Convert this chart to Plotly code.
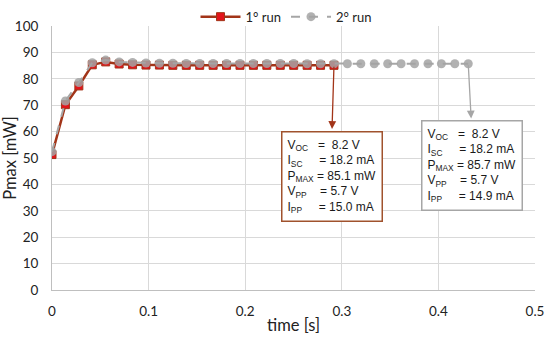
import plotly.graph_objects as go

# ---- data ----
time_1 = [0, 0.0139, 0.0278, 0.0417, 0.0556, 0.0695, 0.0834, 0.0973, 0.1112, 0.1251,
          0.139, 0.1529, 0.1668, 0.1807, 0.1946, 0.2085, 0.2224, 0.2363, 0.2502, 0.2641,
          0.278, 0.2919]
pmax_1 = [51.3, 70.2, 77.3, 85.3, 86.4, 85.6, 85.3, 85.2, 85.2, 85.1,
          85.1, 85.1, 85.1, 85.1, 85.1, 85.1, 85.1, 85.1, 85.1, 85.1,
          85.1, 85.1]
time_2 = [0, 0.0139, 0.0278, 0.0417, 0.0556, 0.0695, 0.0834, 0.0973, 0.1112, 0.1251,
          0.139, 0.1529, 0.1668, 0.1807, 0.1946, 0.2085, 0.2224, 0.2363, 0.2502, 0.2641,
          0.278, 0.2919, 0.3058, 0.3197, 0.3336, 0.3475, 0.3614, 0.3753, 0.3892, 0.4031,
          0.417, 0.4309]
pmax_2 = [52.4, 71.6, 78.6, 86.1, 87.1, 86.4, 86.2, 86.0, 85.9, 85.9,
          85.8, 85.8, 85.8, 85.8, 85.8, 85.8, 85.8, 85.8, 85.8, 85.7,
          85.7, 85.7, 85.7, 85.7, 85.7, 85.7, 85.7, 85.7, 85.7, 85.7,
          85.7, 85.7]
series_names = ["1° run", "2° run"]
box_1 = ["V<sub>OC</sub>   =  8.2 V", "I<sub>SC</sub>     = 18.2 mA", "P<sub>MAX</sub> = 85.1 mW",
         "V<sub>PP</sub>    = 5.7 V", "I<sub>PP</sub>     = 15.0 mA"]
box_2 = ["V<sub>OC</sub>   =  8.2 V", "I<sub>SC</sub>     = 18.2 mA", "P<sub>MAX</sub> = 85.7 mW",
         "V<sub>PP</sub>    = 5.7 V", "I<sub>PP</sub>     = 14.9 mA"]

RED_LINE = "#A23418"
GRAY = "#A6A6A6"
AXFONT = "Lato, Carlito, Calibri, sans-serif"
BOXFONT = dict(family="Liberation Sans, Arial, sans-serif", size=12, color="#1a1a1a")

fig = go.Figure()
fig.add_trace(go.Scatter(
    x=time_1, y=pmax_1, name=series_names[0], mode="lines+markers",
    line=dict(color=RED_LINE, width=2.5),
    marker=dict(symbol="square", size=8, color="#E3141B", line=dict(color=RED_LINE, width=1)),
))
fig.add_trace(go.Scatter(
    x=time_2, y=pmax_2, name=series_names[1], mode="lines+markers",
    line=dict(color=GRAY, width=2, dash="dash"),
    marker=dict(symbol="circle", size=9, color="rgba(163,163,163,0.85)"),
))

# boxes
fig.add_annotation(x=0.2371, y=60.3, xref="x", yref="y", xanchor="left", yanchor="top",
                   text="<br>".join(box_1), showarrow=False, align="left", font=BOXFONT,
                   bordercolor="#A0522D", borderwidth=1.5, borderpad=5, bgcolor="white")
fig.add_annotation(x=0.3822, y=64.4, xref="x", yref="y", xanchor="left", yanchor="top",
                   text="<br>".join(box_2), showarrow=False, align="left", font=BOXFONT,
                   bordercolor=GRAY, borderwidth=1.5, borderpad=5, bgcolor="white")
# arrows
fig.add_annotation(x=time_1[-1] - 0.002, y=61.0, xref="x", yref="y",
                   ax=time_1[-1], ay=pmax_1[-1], axref="x", ayref="y", text="",
                   showarrow=True, arrowhead=2, arrowsize=1.2, arrowwidth=1.3, arrowcolor=RED_LINE,
                   standoff=0, startstandoff=0)
fig.add_annotation(x=time_2[-1] + 0.003, y=65.0, xref="x", yref="y",
                   ax=time_2[-1], ay=pmax_2[-1], axref="x", ayref="y", text="",
                   showarrow=True, arrowhead=2, arrowsize=1.2, arrowwidth=1.3, arrowcolor=GRAY,
                   standoff=0, startstandoff=0)

fig.update_layout(
    width=550, height=339,
    margin=dict(l=52, r=15, t=26, b=49, autoexpand=False),
    paper_bgcolor="white", plot_bgcolor="white",
    font=dict(family=AXFONT, size=13, color="#222222"),
    legend=dict(orientation="h", x=0.52, xanchor="center", xref="container",
                y=0.995, yanchor="top", yref="container",
                font=dict(family=AXFONT, size=13), itemwidth=40, tracegroupgap=0,
                bgcolor="rgba(0,0,0,0)"),
    xaxis=dict(range=[0, 0.5], dtick=0.1, tick0=0, showgrid=True, gridcolor="#D9D9D9",
               gridwidth=1, zeroline=False, showline=True, linecolor="#BFBFBF", linewidth=1,
               ticks="", ticklabelstandoff=9, automargin=False,
               tickfont=dict(family=AXFONT, size=13.5),
               title=dict(text="time [s]", font=dict(family=AXFONT, size=16.5), standoff=1)),
    yaxis=dict(range=[0, 100], dtick=10, showgrid=True, gridcolor="#D9D9D9",
               gridwidth=1, zeroline=False, showline=True, linecolor="#BFBFBF", linewidth=1,
               ticks="", ticklabelstandoff=10, automargin=False,
               tickfont=dict(family=AXFONT, size=13.5),
               title=dict(text="Pmax [mW]", font=dict(family=AXFONT, size=16.5), standoff=0)),
)
fig.write_html("out.html", config={"displayModeBar": False},
               post_script="document.body.style.margin='0';document.body.style.overflow='hidden';")
